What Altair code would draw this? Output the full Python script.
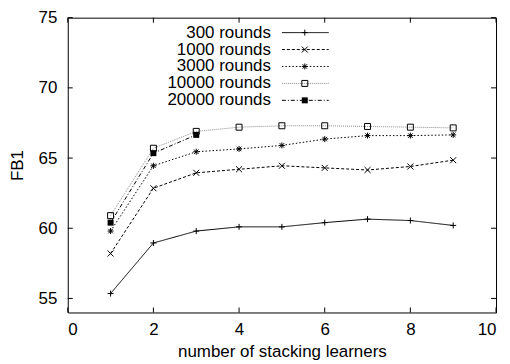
import altair as alt
import pandas as pd

x_vals = [1, 2, 3, 4, 5, 6, 7, 8, 9]
r300 = [55.35, 58.95, 59.8, 60.1, 60.1, 60.4, 60.65, 60.55, 60.2]
r1000 = [58.2, 62.85, 63.95, 64.2, 64.45, 64.3, 64.15, 64.4, 64.85]
r3000 = [59.8, 64.45, 65.45, 65.65, 65.9, 66.35, 66.6, 66.6, 66.65]
r10000 = [60.9, 65.7, 66.9, 67.2, 67.3, 67.3, 67.25, 67.2, 67.15]
r20000 = [60.4, 65.35, 66.65]
series_names = ["300 rounds", "1000 rounds", "3000 rounds", "10000 rounds", "20000 rounds"]
y_ticks = [55, 60, 65, 70, 75]
x_ticks = [0, 2, 4, 6, 8, 10]

FONT = "Liberation Sans"
W, H = 430, 296

rows = []
for name, vals in zip(series_names, [r300, r1000, r3000, r10000, r20000]):
    for xv, yv in zip(x_vals, vals):
        rows.append({"series": name, "x": xv, "y": yv})
df = pd.DataFrame(rows)
leg = pd.DataFrame({"series": series_names, "row": list(range(len(series_names)))})
ytk = pd.DataFrame({"t": y_ticks})
xtk = pd.DataFrame({"t": x_ticks})

plus = "M-1,0L1,0M0,-1L0,1"
cross = "M-1,-1L1,1M-1,1L1,-1"
star = "M-1,0L1,0M0,-1L0,1M-0.75,-0.75L0.75,0.75M-0.75,0.75L0.75,-0.75"

dash_scale = alt.Scale(domain=series_names,
                       range=[[1, 0], [3, 2], [1.5, 2], [1, 1], [4, 2, 1, 2]])
color_scale = alt.Scale(domain=series_names,
                        range=["black", "black", "black", "#8c8c8c", "black"])
shape_scale = alt.Scale(domain=series_names[:4], range=[plus, cross, star, "square"])

xs = alt.Scale(domain=[0, 10], nice=False)
ys = alt.Scale(domain=[54, 75], nice=False, zero=False)

X = alt.X("x:Q", scale=xs,
          axis=alt.Axis(values=x_ticks, tickSize=0, domain=False, grid=False,
                        labelPadding=9, title="number of stacking learners",
                        titleY=39, titleBaseline="middle"))

lines = alt.Chart(df).mark_line(strokeWidth=1).encode(
    x=X,
    y=alt.Y("y:Q", scale=ys,
            axis=alt.Axis(values=y_ticks, tickSize=0, domain=False, grid=False,
                          labelPadding=11, title="FB1", titleX=-50, titleY=H / 2,
                          titleAngle=270, titleAlign="center", titleBaseline="middle")),
    color=alt.Color("series:N", scale=color_scale, legend=None),
    strokeDash=alt.StrokeDash("series:N", scale=dash_scale, legend=None),
    detail="series:N",
)

pts = alt.Chart(df).transform_filter(
    alt.datum.series != "20000 rounds"
).mark_point(filled=False, size=36, strokeWidth=1, color="black", opacity=1).encode(
    x=alt.X("x:Q", scale=xs),
    y=alt.Y("y:Q", scale=ys, axis=None),
    shape=alt.Shape("series:N", scale=shape_scale, legend=None),
)

pts_f = alt.Chart(df).transform_filter(
    alt.datum.series == "20000 rounds"
).mark_point(filled=True, shape="square", size=36, color="black", opacity=1).encode(
    x=alt.X("x:Q", scale=xs),
    y=alt.Y("y:Q", scale=ys, axis=None),
)

ly = alt.Y("row:Q", scale=alt.Scale(domain=[0, 4], range=[15, 83], nice=False, zero=False), axis=None)

leg_text = alt.Chart(leg).mark_text(align="right", baseline="middle", font=FONT,
                                    fontSize=17, color="black").encode(
    x=alt.value(204), y=ly, text="series:N")
leg_rule = alt.Chart(leg).mark_rule(strokeWidth=1).encode(
    x=alt.value(215), x2=alt.value(262), y=ly,
    color=alt.Color("series:N", scale=color_scale, legend=None),
    strokeDash=alt.StrokeDash("series:N", scale=dash_scale, legend=None))
leg_pts = alt.Chart(leg).transform_filter(
    alt.datum.series != "20000 rounds"
).mark_point(filled=False, size=36, strokeWidth=1, color="black", opacity=1).encode(
    x=alt.value(238), y=ly,
    shape=alt.Shape("series:N", scale=shape_scale, legend=None))
leg_ptf = alt.Chart(leg).transform_filter(
    alt.datum.series == "20000 rounds"
).mark_point(filled=True, shape="square", size=36, color="black", opacity=1).encode(
    x=alt.value(238), y=ly)

tick_y = alt.Y("t:Q", scale=ys, axis=None)
tick_x = alt.X("t:Q", scale=xs)
ticks_l = alt.Chart(ytk).mark_rule(color="black", strokeWidth=1).encode(
    x=alt.value(0), x2=alt.value(5), y=tick_y)
ticks_r = alt.Chart(ytk).mark_rule(color="black", strokeWidth=1).encode(
    x=alt.value(W - 5), x2=alt.value(W), y=tick_y)
ticks_b = alt.Chart(xtk).mark_rule(color="black", strokeWidth=1).encode(
    x=tick_x, y=alt.value(H - 5), y2=alt.value(H))
ticks_t = alt.Chart(xtk).mark_rule(color="black", strokeWidth=1).encode(
    x=tick_x, y=alt.value(0), y2=alt.value(5))

chart = alt.layer(
    lines, pts, pts_f, leg_text, leg_rule, leg_pts, leg_ptf,
    ticks_l, ticks_r, ticks_b, ticks_t
).resolve_scale(y="independent").properties(
    width=W, height=H,
    autosize=alt.AutoSizeParams(type="none"),
    padding={"left": 60, "top": 9, "right": 6, "bottom": 49},
).configure_view(
    stroke="black", strokeWidth=1
).configure_axis(
    labelFont=FONT, labelFontSize=17, labelColor="black",
    titleFont=FONT, titleFontSize=17, titleColor="black", titleFontWeight="normal",
)

chart.save("out.html", embed_options={"renderer": "svg", "actions": False})
